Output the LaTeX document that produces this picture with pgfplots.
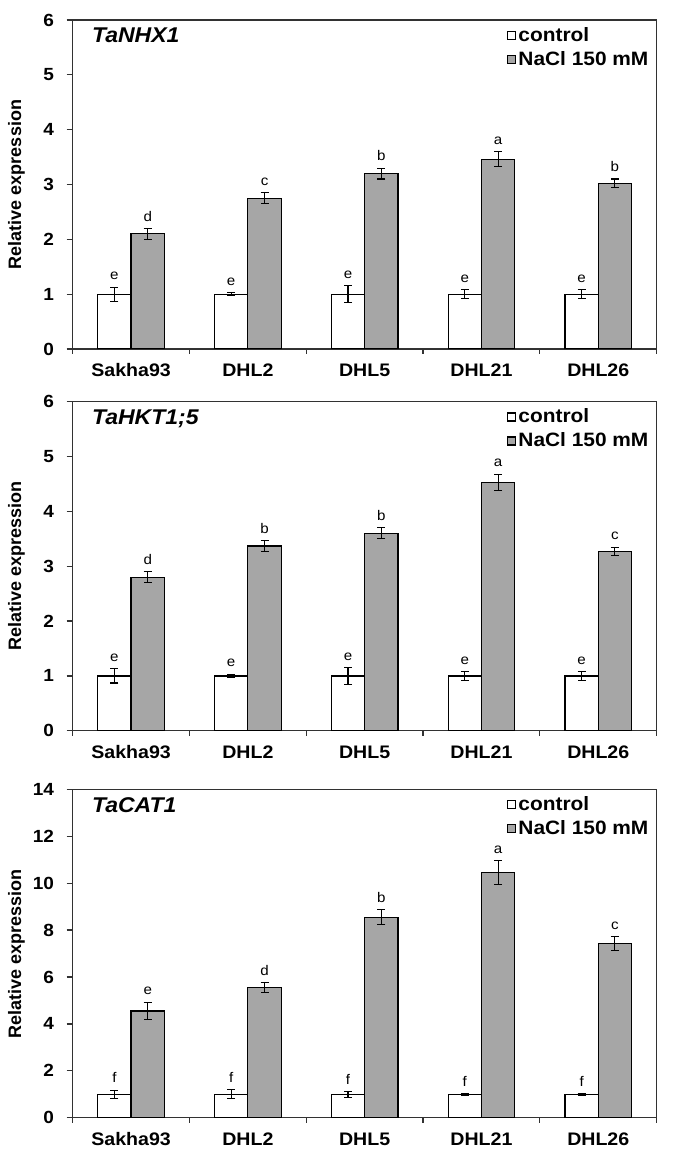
\documentclass[border=0pt]{standalone}
\usepackage{pgfplots}
\pgfplotsset{compat=1.18}
\usepackage{pgfplotstable}
\usepackage{fontspec}
\setmainfont{Liberation Sans}[FakeStretch=1.08]
\newfontfamily\ylfont{Liberation Sans}
\definecolor{salt}{RGB}{166,166,166}
\definecolor{frame}{RGB}{50,50,50}

\pgfplotstableread{
x y e lab
0 1.00 0.13 e
1 1.00 0.03 e
2 1.00 0.15 e
3 1.00 0.08 e
4 1.00 0.08 e
}\nhxC
\pgfplotstableread{
x y e lab
0 2.10 0.10 d
1 2.75 0.10 c
2 3.20 0.10 b
3 3.46 0.14 a
4 3.02 0.08 b
}\nhxS
\pgfplotstableread{
x y e lab
0 1.00 0.13 e
1 1.00 0.03 e
2 1.00 0.15 e
3 1.00 0.08 e
4 1.00 0.08 e
}\hktC
\pgfplotstableread{
x y e lab
0 2.80 0.10 d
1 3.37 0.10 b
2 3.60 0.10 b
3 4.53 0.15 a
4 3.27 0.08 c
}\hktS
\pgfplotstableread{
x y e lab
0 1.00 0.17 f
1 1.00 0.19 f
2 1.00 0.12 f
3 1.00 0.04 f
4 1.00 0.04 f
}\catC
\pgfplotstableread{
x y e lab
0 4.55 0.38 e
1 5.55 0.20 d
2 8.55 0.33 b
3 10.45 0.50 a
4 7.43 0.30 c
}\catS

\pgfplotsset{
  panel/.style={
    scale only axis, width=438pt, height=246.75pt,
    anchor=north west,
    ybar,
    xmin=-0.5, xmax=4.5, ymin=0,
    axis line style={frame, line width=0.9pt},
    tick pos=left, tick align=outside,
    xtick={0,1,2,3,4},
    xticklabels={Sakha93,DHL2,DHL5,DHL21,DHL26},
    minor xtick={-0.5,0.5,1.5,2.5,3.5,4.5},
    major x tick style={draw=none},
    minor tick length=3.75pt, major tick length=4.5pt,
    every tick/.append style={frame, line width=0.9pt},
    /pgf/number format/assume math mode=true,
    xticklabel style={font=\fontsize{13.6}{15}\selectfont\bfseries, anchor=base, yshift=-16.5pt},
    yticklabel style={font=\fontsize{13.2}{15}\selectfont\bfseries, anchor=east, xshift=-6pt},
    ylabel={Relative expression},
    ylabel style={at={(axis description cs:-0.0963,0.5)}, anchor=center,
      font=\ylfont\fontsize{13.5}{15}\selectfont\bfseries},
    every axis title shift=0pt,
    title style={at={(rel axis cs:0,1)}, anchor=base west, xshift=11pt, yshift=-17pt,
      font=\fontsize{16}{18}\selectfont\bfseries\itshape},
    legend image code/.code={\draw[##1] (0pt,-3pt) rectangle (6pt,3pt);},
    legend style={draw=none, fill=none, at={(rel axis cs:0.7437,0.985)}, anchor=north west,
      font=\fontsize{14.5}{17}\selectfont\bfseries, inner sep=0pt, row sep=3pt,
      nodes={inner sep=1.5pt}},
    legend cell align=left,
  },
  ctrl/.style={fill=white, draw=black, line width=0.9pt, bar width=25pt, bar shift=-12.5pt,
    error bars/.cd, y dir=both, y explicit,
    error bar style={line width=0.8pt, black},
    error mark options={rotate=90, mark size=3pt, line width=0.8pt, black}},
  nacl/.style={fill=salt, draw=black, line width=0.9pt, bar width=25pt, bar shift=12.5pt,
    error bars/.cd, y dir=both, y explicit,
    error bar style={line width=0.8pt, black},
    error mark options={rotate=90, mark size=3pt, line width=0.8pt, black}},
  letters/.style={draw=none, fill=none, forget plot, bar width=25pt, bar shift=#1,
    point meta=explicit symbolic, nodes near coords,
    nodes near coords style={font=\fontsize{10.5}{12}\selectfont, anchor=base, yshift=5.5pt, text=black}},
}

\begin{document}
\begin{tikzpicture}
\path[use as bounding box] (0pt,0pt) rectangle (507pt,-870pt);

\begin{axis}[panel, at={(54.5pt,-15pt)}, ymax=6, ytick={0,1,...,6}, title={TaNHX1}]
\addplot[ctrl] table[x=x, y=y, y error=e] {\nhxC};
\addlegendentry{control}
\addplot[nacl] table[x=x, y=y, y error=e] {\nhxS};
\addlegendentry{NaCl 150 mM}
\addplot[letters=-12.5pt] table[x=x, y expr=\thisrow{y}+\thisrow{e}, meta=lab] {\nhxC};
\addplot[letters=12.5pt] table[x=x, y expr=\thisrow{y}+\thisrow{e}, meta=lab] {\nhxS};
\end{axis}

\begin{axis}[panel, at={(54.5pt,-301.3pt)}, ymax=6, ytick={0,1,...,6}, title={TaHKT1;5}]
\addplot[ctrl] table[x=x, y=y, y error=e] {\hktC};
\addlegendentry{control}
\addplot[nacl] table[x=x, y=y, y error=e] {\hktS};
\addlegendentry{NaCl 150 mM}
\addplot[letters=-12.5pt] table[x=x, y expr=\thisrow{y}+\thisrow{e}, meta=lab] {\hktC};
\addplot[letters=12.5pt] table[x=x, y expr=\thisrow{y}+\thisrow{e}, meta=lab] {\hktS};
\end{axis}

\begin{axis}[panel, at={(54.5pt,-592pt)}, height=246.3pt, ymax=14, ytick={0,2,...,14}, title={TaCAT1}]
\addplot[ctrl] table[x=x, y=y, y error=e] {\catC};
\addlegendentry{control}
\addplot[nacl] table[x=x, y=y, y error=e] {\catS};
\addlegendentry{NaCl 150 mM}
\addplot[letters=-12.5pt] table[x=x, y expr=\thisrow{y}+\thisrow{e}, meta=lab] {\catC};
\addplot[letters=12.5pt] table[x=x, y expr=\thisrow{y}+\thisrow{e}, meta=lab] {\catS};
\end{axis}
\end{tikzpicture}
\end{document}
